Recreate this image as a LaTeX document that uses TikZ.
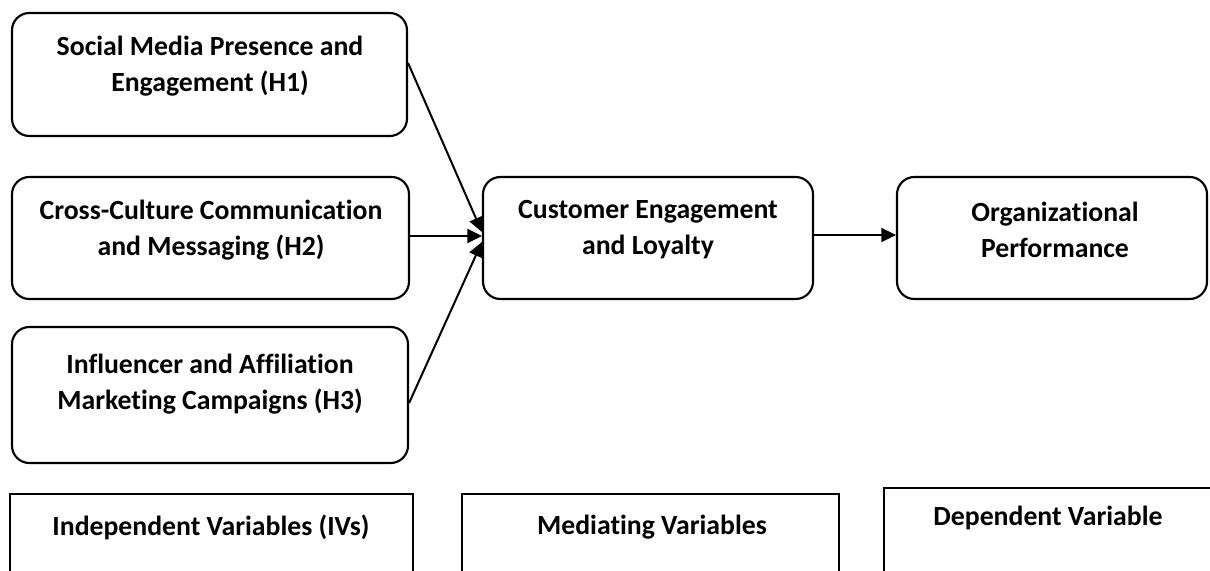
\documentclass[tikz,border=0pt]{standalone}
\usepackage{fontspec}
\setmainfont{Carlito}[Ligatures=NoCommon]
\usetikzlibrary{arrows.meta,fit,calc}
\begin{document}
\begin{tikzpicture}[x=0.75pt,y=-0.75pt,
  stage/.style={draw,line width=1.6pt,rounded corners=13pt,inner sep=0pt},
  group/.style={draw,line width=1.5pt,inner sep=0pt},
  lbl/.style={inner sep=0pt,align=center,font=\fontsize{20.8}{27}\selectfont\bfseries},
  arr/.style={line width=1.5pt,-{Triangle[length=11pt,width=10.5pt]}}]
\path[use as bounding box,clip] (0,0) rectangle (1210,571);

% independent variables
\node[stage,fit={(12,13)(407,136)}] (b1) {};
\node[lbl] (t1) at (210,66.5) {Social Media Presence and\\Engagement (H1)};
\node[stage,fit={(12,177)(409,299)}] (b2) {};
\node[lbl] (t2) at (211,230) {Cross-Culture Communication\\and Messaging (H2)};
\node[stage,fit={(12,327)(408,463)}] (b3) {};
\node[lbl] (t3) at (210,384) {Influencer and Affiliation\\Marketing Campaigns (H3)};

% mediator and outcome
\node[stage,fit={(483,177)(813,299)}] (ce) {};
\node[lbl] (t4) at (648,230) {Customer Engagement\\and Loyalty};
\node[stage,fit={(897,177)(1207,299)}] (op) {};
\node[lbl] (t5) at (1055,230) {Organizational\\Performance};

% connectors
\draw[arr] ($(b1.east)+(0,-11.5)$) -- ($(ce.west)+(0,-6)$);
\draw[arr] ($(b2.east)+(0,-2)$) -- ($(ce.west)+(0,-2)$);
\draw[arr] ($(b3.east)+(0,8)$) -- ($(ce.west)+(0,4)$);
\draw[arr] ($(ce.east)+(0,-3)$) -- ($(op.west)+(0,-3)$);

% column captions
\node[group,fit={(10,494)(413,600)}] (iv) {};
\node[lbl] (t6) at (211,527) {Independent Variables (IVs)};
\node[group,fit={(462,494)(839,600)}] (mv) {};
\node[lbl] (t7) at (652,527) {Mediating Variables};
\node[group,fit={(884,488)(1240,600)}] (dv) {};
\node[lbl] (t8) at (1048,518) {Dependent Variable};
\end{tikzpicture}
\end{document}
